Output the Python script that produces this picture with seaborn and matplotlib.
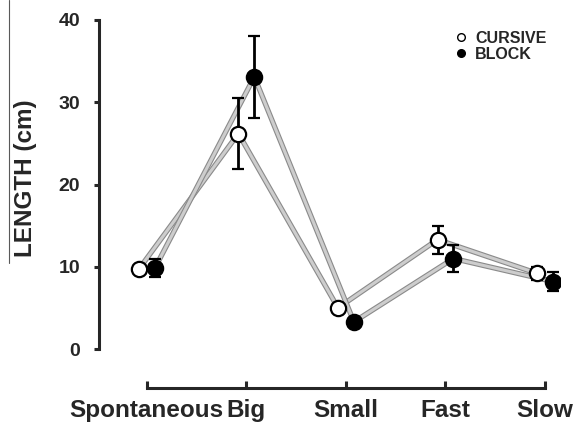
import numpy as np
import pandas as pd
import seaborn as sns
import matplotlib.pyplot as plt
import matplotlib.patheffects as pe
from matplotlib.lines import Line2D

# =====================================
# DATA
# =====================================

conditions = ["Spontaneous", "Big", "Small", "Fast", "Slow"]
groups = ["CURSIVE", "BLOCK"]

cursive_mean = [9.7, 26.2, 5.0, 13.3, 9.2]
cursive_err = [0.4, 4.3, 0.4, 1.7, 0.8]

block_mean = [9.8, 33.1, 3.3, 11.0, 8.2]
block_err = [1.1, 5.0, 0.4, 1.6, 1.2]

y_ticks = [0, 10, 20, 30, 40]

df = pd.DataFrame({
    "condition": conditions * 2,
    "group": ["CURSIVE"] * 5 + ["BLOCK"] * 5,
    "length": cursive_mean + block_mean,
})
errs = {"CURSIVE": cursive_err, "BLOCK": block_err}
faces = {"CURSIVE": "white", "BLOCK": "black"}

# =====================================
# PLOT
# =====================================

sns.set_style("white")
plt.rcParams["font.family"] = ["Liberation Sans", "DejaVu Sans"]
plt.rcParams["font.weight"] = "bold"

fig = plt.figure(figsize=(5.78, 4.28), dpi=100)
ax = fig.add_axes([99 / 578, 1 - 349 / 428, 461 / 578, 329 / 428])

sns.pointplot(
    data=df, x="condition", y="length", hue="group",
    order=conditions, hue_order=groups,
    palette={"CURSIVE": "0.8", "BLOCK": "0.8"},
    dodge=0.16, errorbar=None, markers="", linewidth=2.2,
    legend=False, ax=ax,
)

for line in list(ax.lines):
    xs = np.asarray(line.get_xdata(), dtype=float)
    ys = np.asarray(line.get_ydata(), dtype=float)
    if len(xs) != len(conditions):
        continue
    # which group is this line?
    grp = "CURSIVE" if np.allclose(ys, cursive_mean) else "BLOCK"
    line.set_marker("")
    line.set_color("#cdcdcd")
    line.set_zorder(1)
    line.set_path_effects([
        pe.Stroke(linewidth=3.8, foreground="#8a8a8a"),
        pe.Normal(),
    ])
    ax.errorbar(
        xs, ys, yerr=errs[grp], fmt="o", color="black",
        markersize=11, markerfacecolor=faces[grp],
        markeredgecolor="black", markeredgewidth=1.6,
        elinewidth=2.0, capsize=4.5, capthick=2.0, zorder=3,
    )

ax.set_xlim(-0.48, 4.15)
ax.set_ylim(0, 40)
ax.set_yticks(y_ticks)
ax.set_xticks(range(len(conditions)))
ax.set_xticklabels(conditions, fontweight="bold")
ax.set_yticklabels([str(t) for t in y_ticks], fontweight="bold")
ax.set_xlabel("")
ax.set_ylabel("LENGTH (cm)", fontsize=17.5, fontweight="bold")
ax.yaxis.set_label_coords(-0.135, 0.52)

sns.despine(ax=ax)
ax.spines["left"].set_linewidth(2.2)
ax.spines["bottom"].set_linewidth(2.2)
ax.spines["left"].set_bounds(0, 40)
ax.spines["bottom"].set_bounds(0, 4)
ax.spines["bottom"].set_position(("outward", 28))

ax.tick_params(axis="y", direction="out", length=3.6, width=2.2,
               pad=10, left=True, labelsize=14)
ax.tick_params(axis="x", direction="in", length=5, width=2.2,
               pad=8, bottom=True, labelsize=17.5)

handles = [
    Line2D([], [], marker="o", linestyle="", markersize=5.5,
           markerfacecolor="white", markeredgecolor="black",
           markeredgewidth=1.0, label="CURSIVE"),
    Line2D([], [], marker="o", linestyle="", markersize=5.5,
           markerfacecolor="black", markeredgecolor="black",
           label="BLOCK"),
]
ax.legend(handles=handles, loc="upper left", bbox_to_anchor=(0.74, 1.01),
          frameon=False, handlelength=0.8, handletextpad=0.5,
          labelspacing=0.05, prop={"size": 11.5, "weight": "bold"})

# thin stray rule at the left edge of the reference
fig.add_artist(Line2D([9 / 578, 9 / 578], [1, 1 - 263 / 428],
                      color="0.35", linewidth=0.8))

plt.savefig("out.png", dpi=100)
